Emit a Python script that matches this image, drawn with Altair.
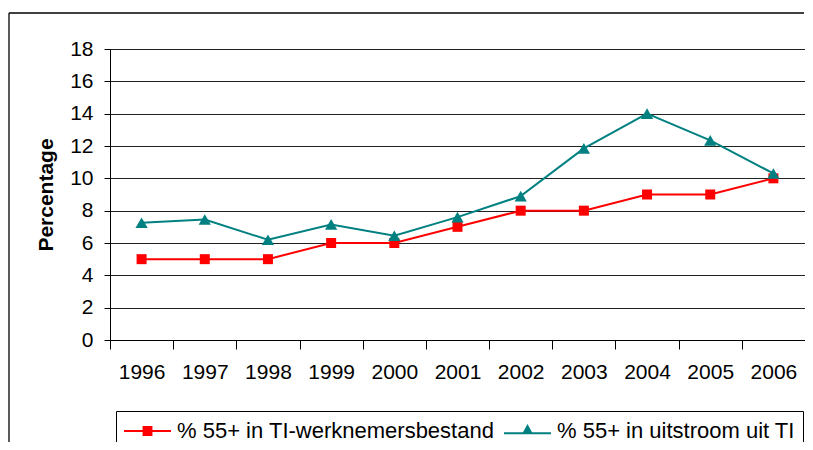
import altair as alt
import pandas as pd

years = ["1996", "1997", "1998", "1999", "2000", "2001", "2002", "2003", "2004", "2005", "2006"]
werknemersbestand = [5, 5, 5, 6, 6, 7, 8, 8, 9, 9, 10]
uitstroom = [7.25, 7.45, 6.2, 7.15, 6.45, 7.6, 8.9, 11.85, 14.0, 12.35, 10.3]
series_names = ["% 55+ in TI-werknemersbestand", "% 55+ in uitstroom uit TI"]
colors = ["#FF0000", "#008080"]
# legend glyphs: thin bar (line) + marker, all filled
legend_symbols = [
    "M-1,-0.045H1V0.045H-1ZM-0.21,-0.21H0.21V0.21H-0.21Z",
    "M-1,0.05H1V0.14H-1ZM-0.24,0.14L0,-0.3L0.24,0.14Z",
]
y_ticks = [0, 2, 4, 6, 8, 10, 12, 14, 16, 18]

rows = []
for name, vals in zip(series_names, [werknemersbestand, uitstroom]):
    for yr, v in zip(years, vals):
        rows.append({"jaar": yr, "waarde": v, "reeks": name})
df = pd.DataFrame(rows)

FONT = "Liberation Sans"
W, H = 695, 291
PAD = {"left": 102, "top": 41, "right": 0, "bottom": 102}

x_enc = alt.X(
    "jaar:N",
    sort=years,
    title=None,
    scale=alt.Scale(type="band", paddingInner=0, paddingOuter=0),
    axis=alt.Axis(
        tickBand="extent", labelAngle=0, grid=False, tickSize=9, labelPadding=12,
        labelFontSize=21, labelFont=FONT, labelColor="black",
        domainColor="black", tickColor="black",
    ),
)
y_enc = alt.Y(
    "waarde:Q",
    scale=alt.Scale(domain=[0, 18], nice=False, zero=True),
    axis=alt.Axis(
        values=y_ticks, title="Percentage", titleFont=FONT, titleFontSize=21,
        titleFontWeight="bold", titleColor="black", titlePadding=13,
        labelFont=FONT, labelFontSize=21, labelColor="black", labelPadding=11,
        tickSize=6, tickColor="black", domainColor="black",
        grid=True, gridColor="#222222", gridWidth=1,
    ),
)

color_scale = alt.Scale(domain=series_names, range=colors)

# chart-area frame (top and left edges; right and bottom lie outside the picture)
frame_df = pd.DataFrame({"k": [0]})
frame_top = alt.Chart(frame_df).mark_rule(color="black", strokeWidth=1.3).encode(
    x=alt.value(-101), x2=alt.value(W - 1), y=alt.value(-36)
)
frame_left = alt.Chart(frame_df).mark_rule(color="black", strokeWidth=1.3).encode(
    x=alt.value(-101), y=alt.value(-36), y2=alt.value(H + PAD["bottom"])
)

lines = alt.Chart(df).mark_line(strokeWidth=2).encode(
    x=x_enc, y=y_enc,
    color=alt.Color("reeks:N", scale=color_scale, legend=None),
    detail="reeks:N",
)

squares = alt.Chart(df).transform_filter(
    alt.datum.reeks == series_names[0]
).mark_point(filled=True, opacity=1, shape="square", size=100).encode(
    x=x_enc, y=y_enc,
    color=alt.Color("reeks:N", scale=color_scale, legend=None),
)

triangles = alt.Chart(df).transform_filter(
    alt.datum.reeks == series_names[1]
).mark_point(filled=True, opacity=1, shape="triangle-up", size=150).encode(
    x=x_enc, y=y_enc,
    color=alt.Color("reeks:N", scale=color_scale, legend=None),
)

leg = alt.Legend(
    orient="none", legendX=6, legendY=362, direction="horizontal", columns=2,
    title=None, symbolSize=2209, symbolStrokeWidth=0, symbolOpacity=1,
    clipHeight=24,
    labelFont=FONT, labelFontSize=22, labelColor="black", labelLimit=0,
    labelOffset=6, columnPadding=9, padding=8,
    strokeColor="black", fillColor="white",
)

legend_layer = alt.Chart(df).mark_point(filled=True, opacity=0).encode(
    x=x_enc, y=y_enc,
    fill=alt.Fill("reeks:N", scale=alt.Scale(domain=series_names, range=colors), legend=leg),
    shape=alt.Shape("reeks:N", scale=alt.Scale(domain=series_names, range=legend_symbols), legend=leg),
)

chart = alt.layer(frame_top, frame_left, lines, squares, triangles, legend_layer).resolve_scale(
    shape="independent", fill="independent"
).properties(
    width=W, height=H,
    padding=PAD,
    autosize=alt.AutoSizeParams(type="none"),
).configure_view(stroke="#808080", strokeWidth=1)

chart.save("out.html", embed_options={"renderer": "svg", "actions": False})
